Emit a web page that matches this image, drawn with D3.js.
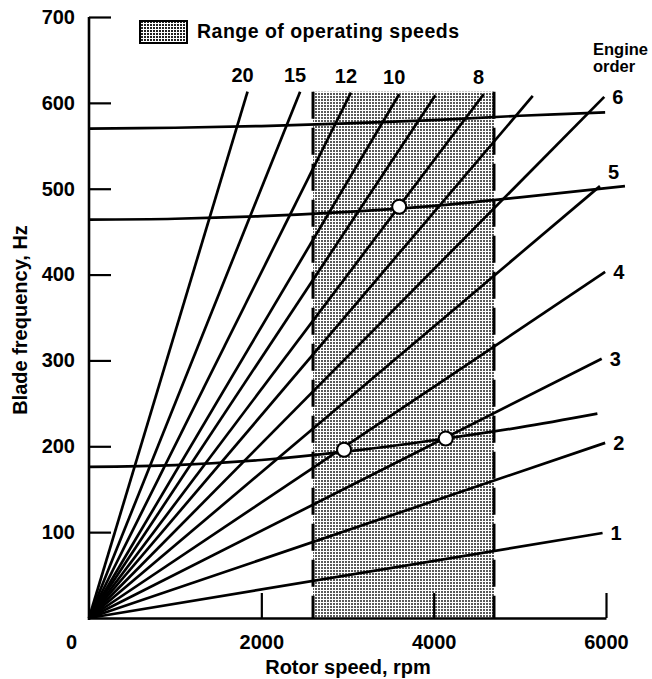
<!DOCTYPE html>
<html><head><meta charset="utf-8">
<script src="https://cdn.jsdelivr.net/npm/d3@7"></script>
<style>
html,body{margin:0;padding:0;background:#fff;}
svg{display:block;}
text{font-family:"Liberation Sans",Arial,Helvetica,sans-serif;font-weight:bold;fill:#000;}
</style>
</head><body>
<svg id="chart" width="652" height="679"></svg>
<script>
// ---- data ----
const engineOrders = [1, 2, 3, 4, 5, 6, 7, 8, 9, 10, 12, 15, 20];
const orderEndRpm  = [5960, 5990, 5950, 5990, 5930, 5980, 5150, 4580, 4020, 3600, 3040, 2450, 1840];
const orderEndHz   = [99, 204, 302, 403, 503, 607, 608, 610, 609, 610, 612, 613, 613];
const orderLabels  = ["1", "2", "3", "4", "5", "6", "", "8", "", "10", "12", "15", "20"];

const mode1Rpm = [0, 1000, 2000, 3000, 4000, 5000, 5900];
const mode1Hz  = [176, 178, 184, 194, 207, 222, 238];
const mode2Rpm = [0, 1000, 2000, 3000, 4000, 5000, 6220];
const mode2Hz  = [464, 465, 468, 473, 480, 490, 503];
const mode3Rpm = [0, 1000, 2000, 3000, 4000, 5000, 5990];
const mode3Hz  = [570, 571, 573, 576, 580, 585, 589];

const resonanceRpm = [2960, 4140, 3600];
const resonanceHz  = [196, 209, 479];

const operatingRange = [2600, 4700];
const operatingTopHz = 613;

const xTicks = [0, 2000, 4000, 6000];
const yTicks = [100, 200, 300, 400, 500, 600, 700];

const legendLabel = "Range of operating speeds";
const xTitle = "Rotor speed, rpm";
const yTitle = "Blade frequency, Hz";

// ---- drawing ----
const svg = d3.select("#chart");
const x = d3.scaleLinear().domain([0, 6000]).range([89, 606]);
const y = d3.scaleLinear().domain([0, 700]).range([618, 17]);

const defs = svg.append("defs");
const pat = defs.append("pattern").attr("id", "dots")
  .attr("patternUnits", "userSpaceOnUse").attr("width", 3).attr("height", 3);
pat.append("rect").attr("width", 3).attr("height", 3).attr("fill", "#fff");
pat.append("rect").attr("x", 0).attr("y", 0).attr("width", 2).attr("height", 2).attr("fill", "#5a5a5a");

const pat2 = defs.append("pattern").attr("id", "dots2")
  .attr("patternUnits", "userSpaceOnUse").attr("width", 3).attr("height", 3);
pat2.append("rect").attr("width", 3).attr("height", 3).attr("fill", "#fff");
pat2.append("rect").attr("x", 0).attr("y", 0).attr("width", 2).attr("height", 2).attr("fill", "#222");

// operating range
svg.append("rect")
  .attr("x", x(operatingRange[0])).attr("y", y(operatingTopHz))
  .attr("width", x(operatingRange[1]) - x(operatingRange[0]))
  .attr("height", y(0) - y(operatingTopHz))
  .attr("fill", "url(#dots)");
operatingRange.forEach(r => {
  svg.append("line")
    .attr("x1", x(r)).attr("x2", x(r))
    .attr("y1", y(operatingTopHz)).attr("y2", y(0))
    .attr("stroke", "#000").attr("stroke-width", 3)
    .attr("stroke-dasharray", "27,9");
});

const line = d3.line().x(d => x(d[0])).y(d => y(d[1]));

// engine order lines
engineOrders.forEach((o, i) => {
  svg.append("path")
    .attr("d", line([[0, 0], [orderEndRpm[i], orderEndHz[i]]]))
    .attr("fill", "none").attr("stroke", "#000").attr("stroke-width", 2.7);
});

// blade mode curves
const modeLine = d3.line().x(d => x(d[0])).y(d => y(d[1])).curve(d3.curveCatmullRom);
[[mode1Rpm, mode1Hz], [mode2Rpm, mode2Hz], [mode3Rpm, mode3Hz]].forEach(([r, h]) => {
  svg.append("path")
    .attr("d", modeLine(r.map((v, i) => [v, h[i]])))
    .attr("fill", "none").attr("stroke", "#000").attr("stroke-width", 2.7);
});

// axes
const yAxis = d3.axisLeft(y).tickValues(yTicks).tickFormat(d3.format("d"))
  .tickSizeInner(-22).tickSizeOuter(0).tickPadding(14);
const gy = svg.append("g").attr("transform", `translate(${x(0)},0)`).call(yAxis);
const xAxis = d3.axisBottom(x).tickValues(xTicks).tickFormat(d3.format("d"))
  .tickSizeInner(-25).tickSizeOuter(0).tickPadding(17);
const gx = svg.append("g").attr("transform", `translate(0,${y(0)})`).call(xAxis);
[gx, gy].forEach(g => {
  g.select(".domain").attr("stroke", "#000").attr("stroke-width", 2.6);
  g.selectAll(".tick line").attr("stroke", "#000").attr("stroke-width", 2.2);
  g.selectAll(".tick text").attr("font-size", 20).attr("font-family", null).attr("fill", "#000");
});
gy.select(".domain").attr("d", `M0,${y(0) + 2}V${y(700)}`);
gx.selectAll(".tick").filter(d => d === 0).select("line").remove();
gx.selectAll(".tick").filter(d => d === 0).select("text").attr("x", -18);

// resonance circles
resonanceRpm.forEach((r, i) => {
  svg.append("circle")
    .attr("cx", x(r)).attr("cy", y(resonanceHz[i])).attr("r", 7)
    .attr("fill", "#fff").attr("stroke", "#000").attr("stroke-width", 2);
});

// order labels
engineOrders.forEach((o, i) => {
  const lab = orderLabels[i];
  if (!lab) return;
  const ex = x(orderEndRpm[i]), ey = y(orderEndHz[i]);
  const t = svg.append("text").attr("font-size", 20).text(lab);
  if (o >= 7) {
    t.attr("x", ex - 5).attr("y", ey - 10).attr("text-anchor", "middle");
  } else if (o === 5) {
    t.attr("x", ex + 8).attr("y", ey - 14).attr("dy", "0.36em");
  } else {
    t.attr("x", ex + 8).attr("y", ey).attr("dy", "0.36em");
  }
});

// engine order heading
svg.append("text").attr("x", 593).attr("y", 55).attr("font-size", 16.5).text("Engine");
svg.append("text").attr("x", 593).attr("y", 72).attr("font-size", 16.5).text("order");

// legend
svg.append("rect").attr("x", 140).attr("y", 21).attr("width", 47).attr("height", 22)
  .attr("fill", "url(#dots2)").attr("stroke", "#000").attr("stroke-width", 2);
svg.append("text").attr("x", 197).attr("y", 38).attr("font-size", 19.5)
  .attr("textLength", 262).attr("lengthAdjust", "spacing").text(legendLabel);

// axis titles
svg.append("text").attr("x", 348).attr("y", 674).attr("text-anchor", "middle")
  .attr("font-size", 20).text(xTitle);
svg.append("text").attr("transform", "translate(27,320) rotate(-90)")
  .attr("text-anchor", "middle").attr("font-size", 20).text(yTitle);
</script>
</body></html>
